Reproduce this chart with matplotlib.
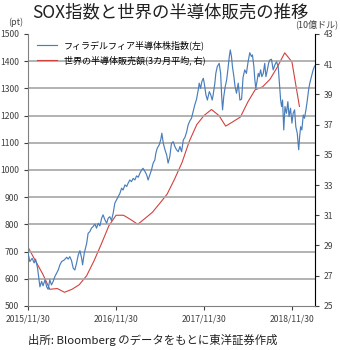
import pandas as pd
import numpy as np
import matplotlib
matplotlib.use('Agg')
import matplotlib.pyplot as plt
import matplotlib.dates as mdates

plt.rcParams['font.family'] = ['Noto Sans CJK JP', 'DejaVu Sans']

# SOX指数（日数は2015/11/30からの経過日数）
sox_days = [0, 4, 8, 18, 26, 32, 40, 46, 50, 57, 63, 71, 78, 84, 91, 98, 105, 112, 126, 133,
            140, 151, 161, 167, 174, 181, 188, 195, 202, 209, 216, 223, 227, 234, 244, 250, 257,
            264, 271, 278, 285, 292, 299, 306, 312, 320, 327, 333, 340, 347, 354, 361, 368, 375,
            382, 389, 395, 403, 410, 416, 423, 430, 437, 444, 451, 458, 465, 472, 478, 486, 493,
            499, 506, 513, 520, 527, 531, 537, 545, 552, 556, 562, 569, 576, 582, 589, 596, 603,
            610, 617, 624, 631, 638, 645, 652, 659, 665, 672, 679, 686, 693, 700, 707, 711, 717,
            722, 728, 732, 739, 745, 753, 759, 765, 769, 776, 780, 786, 794, 800, 804, 808, 813,
            819, 825, 830, 836, 840, 845, 849, 855, 860, 866, 873, 880, 887, 893, 900, 907, 914,
            921, 928, 932, 938, 942, 946, 952, 956, 960, 966, 971, 977, 983, 988, 994, 999, 1004,
            1011, 1018, 1025, 1032, 1039, 1043, 1049, 1053, 1057, 1062, 1067, 1073, 1079, 1084,
            1090, 1096, 1101, 1107, 1112, 1118, 1124, 1128, 1132, 1137, 1143, 1148, 1154, 1159,
            1165, 1170, 1177, 1184, 1190]
sox_values = [695, 681, 663, 675, 658, 672, 640, 596, 570, 590, 574, 596, 570, 561, 596, 577, 590,
              608, 632, 651, 663, 669, 679, 672, 681, 667, 639, 632, 657, 687, 703, 676, 651, 694,
              730, 767, 773, 786, 792, 801, 786, 804, 794, 822, 835, 816, 804, 822, 828, 814, 841,
              878, 890, 902, 914, 933, 926, 945, 939, 951, 963, 957, 969, 963, 978, 973, 988, 1000,
              1006, 994, 982, 963, 982, 1000, 1025, 1037, 1061, 1080, 1092, 1113, 1135, 1098, 1074,
              1055, 1025, 1049, 1098, 1104, 1086, 1074, 1067, 1086, 1067, 1110, 1120, 1140, 1165,
              1180, 1190, 1215, 1240, 1260, 1294, 1319, 1300, 1325, 1337, 1319, 1276, 1257, 1288,
              1276, 1257, 1276, 1319, 1355, 1380, 1392, 1355, 1276, 1221, 1270, 1306, 1331, 1368,
              1417, 1441, 1417, 1380, 1343, 1306, 1282, 1319, 1257, 1260, 1340, 1368, 1355, 1398,
              1431, 1417, 1423, 1380, 1331, 1300, 1331, 1355, 1343, 1368, 1343, 1355, 1392, 1343,
              1368, 1392, 1404, 1407, 1368, 1386, 1398, 1380, 1331, 1257, 1233, 1257, 1147, 1233,
              1208, 1251, 1196, 1227, 1172, 1208, 1221, 1159, 1135, 1074, 1123, 1159, 1147, 1202,
              1190, 1221, 1251, 1294, 1319, 1343, 1368, 1382]

# 世界の半導体販売額（3カ月平均、10億ドル、月次）
sales_values = [28.9, 28.0, 27.1, 26.1, 26.15, 25.9, 26.1, 26.4, 27.0, 28.0, 29.1, 30.3, 31.0,
                31.0, 30.7, 30.4, 30.8, 31.2, 31.8, 32.4, 33.4, 34.5, 35.9, 37.0, 37.6, 38.0,
                37.6, 36.9, 37.2, 37.5, 38.5, 39.3, 39.5, 40.0, 40.8, 41.75, 41.15, 38.2]

x_ticks = ['2015-11-30', '2016-11-30', '2017-11-30', '2018-11-30']

start = pd.Timestamp('2015-11-30')
sox_dates = start + pd.to_timedelta(sox_days, unit='D')
sales_dates = pd.date_range(start, periods=len(sales_values), freq='ME')

fig = plt.figure(figsize=(3.4, 3.5), dpi=100)
ax = fig.add_axes([0.082, 0.126, 0.844, 0.777])
ax2 = ax.twinx()

blue = '#4a7ebb'
red = '#d2413f'
grid_c = '#a6a6a6'
txt_c = '#404040'

l1, = ax.plot(sox_dates, sox_values, color=blue, lw=0.85, zorder=3)
l2, = ax2.plot(sales_dates, sales_values, color=red, lw=0.8)

ax.set_ylim(500, 1500)
ax.set_yticks(np.arange(500, 1501, 100))
ax2.set_ylim(25, 43)
ax2.set_yticks(np.arange(25, 44, 2))
ax.set_xlim(start, start + pd.Timedelta(days=1191))
ax.set_xticks(pd.to_datetime(x_ticks))
ax.xaxis.set_major_formatter(mdates.DateFormatter('%Y/%m/%d'))

# 横の目盛線（左軸）
for y in range(600, 1500, 100):
    ax.axhline(y, color=grid_c, lw=1.2, zorder=1)

for a in (ax, ax2):
    a.spines['top'].set_visible(False)
    a.tick_params(labelsize=6.2, colors=txt_c, length=3, width=0.8)
ax.spines['left'].set_color('#808080')
ax.spines['bottom'].set_color('#808080')
ax2.spines['right'].set_color('#c8c8c8')
ax2.spines['left'].set_visible(False)
ax2.spines['bottom'].set_visible(False)
ax.tick_params(axis='x', pad=3)

ax.set_zorder(ax2.get_zorder() + 1)
ax.patch.set_visible(False)

ax.legend([l1, l2], ['フィラデルフィア半導体株指数(左)', '世界の半導体販売額(3カ月平均, 右)'],
          loc='upper left', bbox_to_anchor=(0.01, 1.0), frameon=False, fontsize=6.5,
          handlelength=2.2, labelspacing=0.6, borderaxespad=0.3)

fig.text(0.5, 0.965, 'SOX指数と世界の半導体販売の推移', ha='center', va='center',
         fontsize=12.5, color='#202020')
fig.text(0.045, 0.935, '(pt)', ha='center', va='center', fontsize=6.5, color=txt_c)
fig.text(0.995, 0.93, '(10億ドル)', ha='right', va='center', fontsize=6.5, color=txt_c)
fig.text(0.082, 0.028, '出所: Bloomberg のデータをもとに東洋証券作成', ha='left', va='center',
         fontsize=8.2, color='#202020')

fig.savefig('out.png', dpi=100)
